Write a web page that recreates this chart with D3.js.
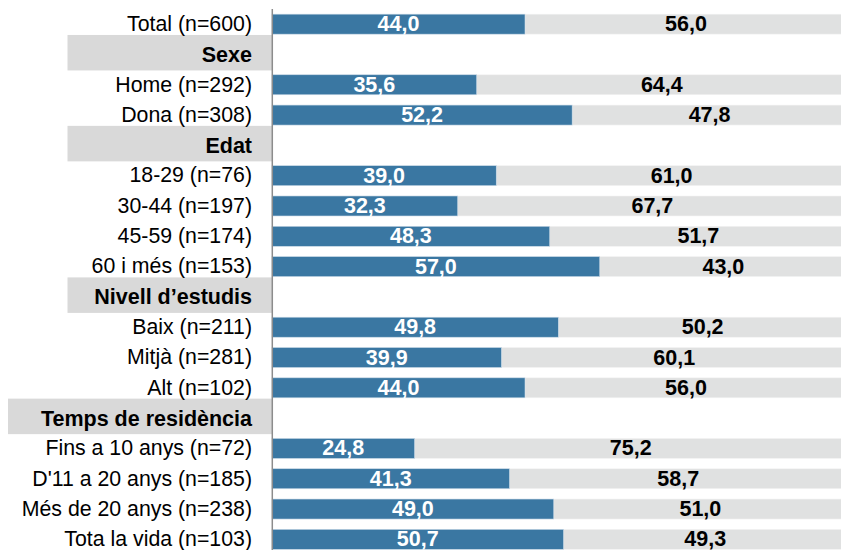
<!DOCTYPE html>
<html>
<head>
<meta charset="utf-8">
<script src="https://cdn.jsdelivr.net/npm/d3@7"></script>
<style>
  html, body { margin: 0; padding: 0; background: #fff; }
  svg { display: block; }
  text { font-family: "Liberation Sans", Arial, sans-serif; }
</style>
</head>
<body>
<svg id="chart" width="841" height="550"></svg>
<script>
// Row labels (headers marked by null values)
const labels = [
  "Total (n=600)", "Sexe", "Home (n=292)", "Dona (n=308)",
  "Edat", "18-29 (n=76)", "30-44 (n=197)", "45-59 (n=174)", "60 i més (n=153)",
  "Nivell d’estudis", "Baix (n=211)", "Mitjà (n=281)", "Alt (n=102)",
  "Temps de residència", "Fins a 10 anys (n=72)", "D'11 a 20 anys (n=185)",
  "Més de 20 anys (n=238)", "Tota la vida (n=103)"
];
const isHeader = [false, true, false, false, true, false, false, false, false,
  true, false, false, false, true, false, false, false, false];
const seriesA = [44.0, null, 35.6, 52.2, null, 39.0, 32.3, 48.3, 57.0,
  null, 49.8, 39.9, 44.0, null, 24.8, 41.3, 49.0, 50.7];
const seriesB = [56.0, null, 64.4, 47.8, null, 61.0, 67.7, 51.7, 43.0,
  null, 50.2, 60.1, 56.0, null, 75.2, 58.7, 51.0, 49.3];

const fmt = v => v.toFixed(1).replace(".", ",");

const svg = d3.select("#chart");
const x = d3.scaleLinear().domain([0, 100]).range([272, 847]);
const y = d3.scaleBand().domain(d3.range(labels.length)).range([9, 554.5]).paddingInner(0);
const cy = i => y(i) + y.bandwidth() / 2;
const barH = 20;

const rows = labels.map((l, i) => ({ i, label: l, header: isHeader[i], a: seriesA[i], b: seriesB[i] }));

// Header boxes
const hdr = svg.append("g");
rows.filter(d => d.header).forEach(d => {
  const g = hdr.append("g");
  const rect = g.append("rect")
    .attr("y", cy(d.i) - 19.5).attr("height", 35.5)
    .attr("fill", "#d9d9d9");
  const t = g.append("text")
    .attr("x", 252).attr("y", cy(d.i) + 7.5)
    .attr("text-anchor", "end")
    .attr("font-size", "21.5px").attr("font-weight", "bold").attr("fill", "#000")
    .text(d.label);
  const w = t.node().getComputedTextLength();
  const left = w > 190 ? 8 : 67.5;
  rect.attr("x", left).attr("width", 272 - left);
});

// Row labels
svg.append("g").selectAll("text")
  .data(rows.filter(d => !d.header))
  .join("text")
  .attr("x", 252).attr("y", d => cy(d.i) + 6.8)
  .attr("text-anchor", "end")
  .attr("font-size", "21.3px").attr("fill", "#000")
  .text(d => d.label);

const data = rows.filter(d => !d.header);

// Gray segments
svg.append("g").selectAll("rect")
  .data(data).join("rect")
  .attr("x", d => x(d.a)).attr("width", d => x(d.a + d.b) - x(d.a))
  .attr("y", d => cy(d.i) - barH / 2).attr("height", barH)
  .attr("fill", "#e0e1e1").attr("stroke", "#f4f4f4").attr("stroke-width", 0.6);

// Blue segments
svg.append("g").selectAll("rect")
  .data(data).join("rect")
  .attr("x", x(0)).attr("width", d => x(d.a) - x(0))
  .attr("y", d => cy(d.i) - barH / 2).attr("height", barH)
  .attr("fill", "#3a77a2").attr("stroke", "#c9d9e6").attr("stroke-width", 0.6);

// Blue labels
svg.append("g").selectAll("text")
  .data(data).join("text")
  .attr("x", d => (x(0) + x(d.a)) / 2).attr("y", d => cy(d.i) + 7)
  .attr("text-anchor", "middle")
  .attr("font-size", "21.5px").attr("font-weight", "bold").attr("fill", "#fff")
  .text(d => fmt(d.a));

// Gray labels
svg.append("g").selectAll("text")
  .data(data).join("text")
  .attr("x", d => (x(d.a) + x(d.a + d.b)) / 2).attr("y", d => cy(d.i) + 7)
  .attr("text-anchor", "middle")
  .attr("font-size", "21.5px").attr("font-weight", "bold").attr("fill", "#000")
  .text(d => fmt(d.b));

// Vertical axis line
svg.append("line")
  .attr("x1", 272.3).attr("x2", 272.3).attr("y1", 9).attr("y2", 550)
  .attr("stroke", "#8c8c8c").attr("stroke-width", 1.5);
</script>
</body>
</html>
